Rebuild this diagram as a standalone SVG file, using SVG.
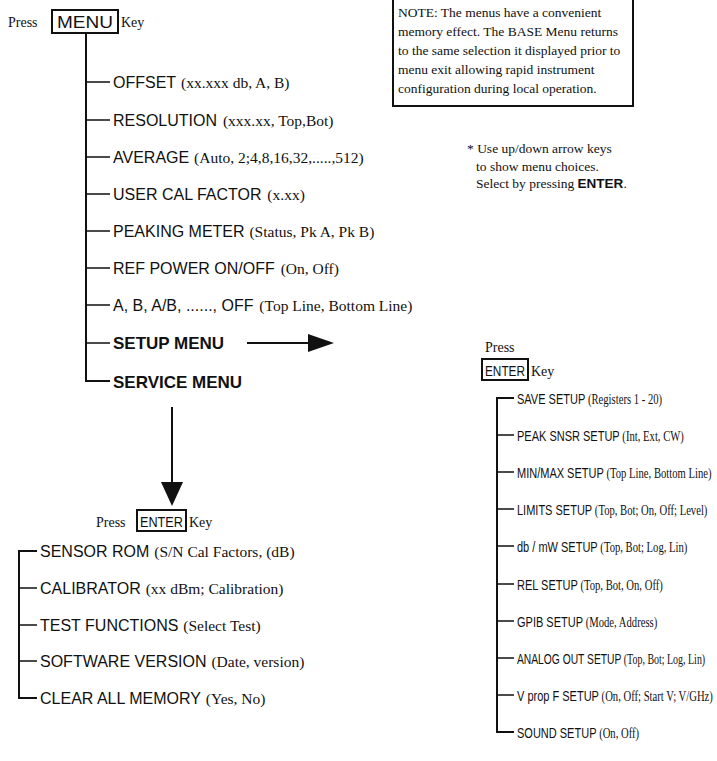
<svg xmlns="http://www.w3.org/2000/svg" width="717" height="761" viewBox="0 0 717 761">
<style>
.s{font-family:"Liberation Sans",Arial,sans-serif;font-size:16px;fill:#111}
.b{font-family:"Liberation Sans",Arial,sans-serif;font-size:17px;font-weight:bold;fill:#111}
.r{font-family:"Liberation Serif","Times New Roman",serif;font-size:15.5px;fill:#111}
.n{font-family:"Liberation Serif","Times New Roman",serif;font-size:13.5px;fill:#111}
.rs{font-family:"Liberation Sans",Arial,sans-serif;font-size:15.5px;fill:#111}
.rr{font-family:"Liberation Serif","Times New Roman",serif;font-size:15px;fill:#111}
.k{font-family:"Liberation Sans",Arial,sans-serif;font-size:14px;fill:#111}
.box{fill:none;stroke:#111;stroke-width:2}
.t{stroke:#111;stroke-width:2;fill:none}
.st{stroke:#111;stroke-width:1.6;fill:none}
</style>
<rect width="717" height="761" fill="#fff"/>

<g id="press-menu">
<text class="r" x="8" y="27" style="font-size:14px">Press</text>
<rect class="box" x="52" y="10" width="66" height="23"/>
<text class="s" x="57" y="28" style="font-size:17px" textLength="56" lengthAdjust="spacingAndGlyphs">MENU</text>
<text class="r" x="121" y="27" style="font-size:14px">Key</text>
</g>

<g id="note">
<rect class="box" x="393" y="-1" width="240" height="107"/>
<text class="n" x="398" y="17">NOTE:  The menus have a convenient</text>
<text class="n" x="398" y="36">memory effect.  The BASE Menu returns</text>
<text class="n" x="398" y="55">to the same selection it displayed prior to</text>
<text class="n" x="398" y="74">menu exit allowing rapid instrument</text>
<text class="n" x="398" y="93">configuration during local operation.</text>
</g>

<g id="hint">
<text class="n" x="467" y="153">* Use up/down arrow keys</text>
<text class="n" x="476" y="171">to show menu choices.</text>
<text class="n" x="476" y="188">Select by pressing <tspan style="font-family:'Liberation Sans',Arial,sans-serif;font-weight:bold">ENTER</tspan>.</text>
</g>

<g id="menu-items">
<g id="offset"><text x="113" y="88"><tspan class="s">OFFSET</tspan><tspan class="r" dx="1"> (xx.xxx db, A, B)</tspan></text></g>
<g id="resolution"><text x="113" y="126"><tspan class="s">RESOLUTION</tspan><tspan class="r" dx="2"> (xxx.xx, Top,Bot)</tspan></text></g>
<g id="average"><text x="113" y="163"><tspan class="s">AVERAGE</tspan><tspan class="r" dx="1"> (Auto, 2;4,8,16,32,.....,512)</tspan></text></g>
<g id="usercal"><text x="113" y="200"><tspan class="s">USER CAL FACTOR</tspan><tspan class="r" dx="2"> (x.xx)</tspan></text></g>
<g id="peaking"><text x="113" y="237"><tspan class="s">PEAKING METER</tspan><tspan class="r" dx="1"> (Status, Pk A, Pk B)</tspan></text></g>
<g id="refpower"><text x="113" y="274"><tspan class="s">REF POWER ON/OFF</tspan><tspan class="r" dx="2"> (On, Off)</tspan></text></g>
<g id="abab"><text x="113" y="311"><tspan class="s">A, B, A/B, ......, OFF</tspan><tspan class="r" dx="2"> (Top Line, Bottom Line)</tspan></text></g>
<g id="setupmenu"><text class="b" x="113" y="349">SETUP MENU</text></g>
<g id="servicemenu"><text class="b" x="113" y="388">SERVICE MENU</text></g>
</g>

<g id="press-enter-setup">
<text class="r" x="485" y="352" style="font-size:14px">Press</text>
<rect class="box" x="482" y="359" width="46" height="21"/>
<text class="k" x="485" y="376" textLength="40" lengthAdjust="spacingAndGlyphs">ENTER</text>
<text class="r" x="531" y="376" style="font-size:14px">Key</text>
</g>

<g id="setup-items" transform="matrix(0.71,0,0,1,149.93,0)">
<g id="save"><text x="517" y="404"><tspan class="rs">SAVE SETUP</tspan><tspan class="rr"> (Registers 1 - 20)</tspan></text></g>
<g id="peaksnsr"><text x="517" y="441"><tspan class="rs">PEAK SNSR SETUP</tspan><tspan class="rr"> (Int, Ext, CW)</tspan></text></g>
<g id="minmax"><text x="517" y="478"><tspan class="rs">MIN/MAX SETUP</tspan><tspan class="rr"> (Top Line, Bottom Line)</tspan></text></g>
<g id="limits"><text x="517" y="515"><tspan class="rs">LIMITS SETUP</tspan><tspan class="rr"> (Top, Bot; On, Off; Level)</tspan></text></g>
<g id="dbmw"><text x="517" y="552"><tspan class="rs">db / mW SETUP</tspan><tspan class="rr"> (Top, Bot; Log, Lin)</tspan></text></g>
<g id="rel"><text x="517" y="590"><tspan class="rs">REL SETUP</tspan><tspan class="rr"> (Top, Bot, On, Off)</tspan></text></g>
<g id="gpib"><text x="517" y="627"><tspan class="rs">GPIB SETUP</tspan><tspan class="rr"> (Mode, Address)</tspan></text></g>
<g id="analog" transform="matrix(0.935,0,0,1,33.6,0)"><text x="517" y="664"><tspan class="rs">ANALOG OUT SETUP</tspan><tspan class="rr"> (Top, Bot; Log, Lin)</tspan></text></g>
<g id="vpropf"><text x="517" y="701"><tspan class="rs">V prop F SETUP</tspan><tspan class="rr"> (On, Off; Start V; V/GHz)</tspan></text></g>
<g id="sound"><text x="517" y="738"><tspan class="rs">SOUND SETUP</tspan><tspan class="rr"> (On, Off)</tspan></text></g>
</g>

<g id="press-enter-service">
<text class="r" x="96" y="527" style="font-size:14px">Press</text>
<rect class="box" x="137" y="510" width="49" height="21"/>
<text class="k" x="140" y="527" textLength="43" lengthAdjust="spacingAndGlyphs">ENTER</text>
<text class="r" x="189" y="527" style="font-size:14px">Key</text>
</g>

<g id="service-items">
<g id="sensorrom"><text x="40" y="557"><tspan class="s">SENSOR ROM</tspan><tspan class="r" dx="1"> (S/N Cal Factors, (dB)</tspan></text></g>
<g id="calibrator"><text x="40" y="594"><tspan class="s">CALIBRATOR</tspan><tspan class="r" dx="1"> (xx dBm; Calibration)</tspan></text></g>
<g id="testfn"><text x="40" y="631"><tspan class="s">TEST FUNCTIONS</tspan><tspan class="r" dx="1"> (Select Test)</tspan></text></g>
<g id="software"><text x="40" y="667"><tspan class="s">SOFTWARE VERSION</tspan><tspan class="r" dx="1"> (Date, version)</tspan></text></g>
<g id="clearall"><text x="40" y="704"><tspan class="s">CLEAR ALL MEMORY</tspan><tspan class="r" dx="1"> (Yes, No)</tspan></text></g>
</g>

<g id="connectors">
<path class="t" d="M86 33 V381 H110"/>
<path class="st" d="M86 82 H110 M86 120 H110 M86 157 H110 M86 194 H110 M86 231 H110 M86 268 H110 M86 305 H110 M86 343 H110"/>
<path class="t" d="M514 398 H497 V732 H514"/>
<path class="st" d="M497 435 H514 M497 472 H514 M497 509 H514 M497 546 H514 M497 584 H514 M497 621 H514 M497 658 H514 M497 695 H514"/>
<path class="t" d="M37 551 H19 V698 H37"/>
<path class="st" d="M19 588 H37 M19 625 H37 M19 661 H37"/>
<line class="t" x1="247" y1="343" x2="312" y2="343"/>
<polygon points="308,334 334,343 308,352" fill="#111"/>
<line class="t" x1="172" y1="407" x2="172" y2="486"/>
<polygon points="161,482 183,482 172,506" fill="#111"/>
</g>
</svg>
